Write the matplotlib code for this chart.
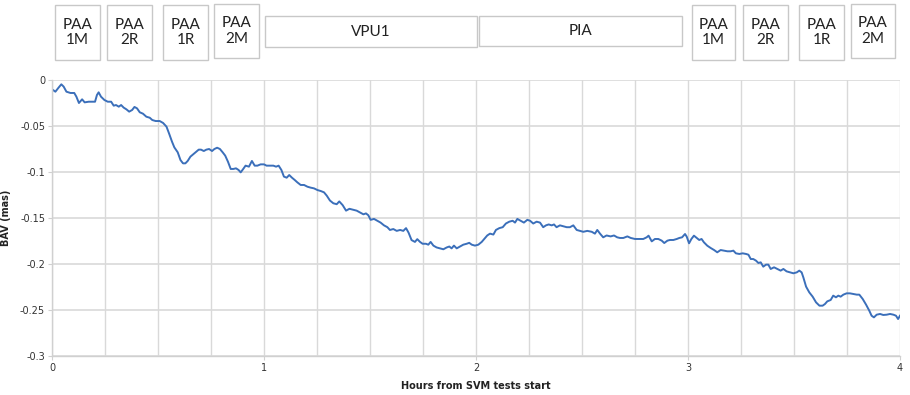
import numpy as np
import matplotlib
matplotlib.use("Agg")
import matplotlib.pyplot as plt
from matplotlib.patches import Rectangle

# BAV trace
hours = [0.000, 0.016, 0.031, 0.044, 0.055, 0.068, 0.087, 0.105, 0.115, 0.127,
         0.142, 0.154, 0.173, 0.194, 0.203, 0.212, 0.220, 0.231, 0.247, 0.263,
         0.279, 0.291, 0.302, 0.315, 0.326, 0.338, 0.351, 0.364, 0.378, 0.389,
         0.401, 0.414, 0.429, 0.445, 0.461, 0.473, 0.489, 0.508, 0.524, 0.540,
         0.552, 0.566, 0.577, 0.593, 0.606, 0.618, 0.629, 0.640, 0.653, 0.666,
         0.678, 0.692, 0.703, 0.716, 0.728, 0.741, 0.755, 0.766, 0.779, 0.792,
         0.805, 0.817, 0.830, 0.843, 0.855, 0.868, 0.880, 0.890, 0.902, 0.913,
         0.929, 0.943, 0.956, 0.969, 0.984, 1.000, 1.012, 1.028, 1.044, 1.057,
         1.069, 1.082, 1.094, 1.107, 1.119, 1.132, 1.145, 1.157, 1.173, 1.189,
         1.205, 1.220, 1.236, 1.252, 1.268, 1.283, 1.296,
         1.311, 1.327, 1.343, 1.355, 1.371, 1.387, 1.403, 1.421, 1.437, 1.453,
         1.469, 1.481, 1.492, 1.503, 1.519, 1.535, 1.550, 1.566, 1.582, 1.594,
         1.610, 1.626, 1.642, 1.657, 1.670, 1.682, 1.696, 1.712, 1.723, 1.736,
         1.748, 1.764, 1.775, 1.786, 1.799, 1.814, 1.830, 1.846, 1.862, 1.874,
         1.885, 1.896, 1.909, 1.925, 1.940, 1.956, 1.968, 1.980, 1.995, 2.011,
         2.027, 2.042, 2.053, 2.066, 2.082, 2.094, 2.110, 2.126, 2.141, 2.157,
         2.173, 2.184, 2.195, 2.211, 2.226, 2.242, 2.255, 2.270, 2.286, 2.302,
         2.317, 2.330, 2.343, 2.357, 2.368, 2.380, 2.396, 2.412, 2.428, 2.443,
         2.459, 2.475, 2.490, 2.506, 2.525, 2.546, 2.561, 2.572, 2.585, 2.600,
         2.616, 2.635, 2.651, 2.666,
         2.679, 2.695, 2.714, 2.730, 2.750, 2.770, 2.789, 2.805, 2.814, 2.829,
         2.844, 2.860, 2.876, 2.888, 2.903, 2.915, 2.931, 2.947, 2.959, 2.972,
         2.986, 2.994, 3.005, 3.016, 3.028, 3.041, 3.053, 3.064, 3.075, 3.091,
         3.107, 3.123, 3.138, 3.154, 3.170, 3.186, 3.201, 3.214, 3.226, 3.242,
         3.258, 3.274, 3.285, 3.296, 3.308, 3.321, 3.332, 3.343, 3.355, 3.368,
         3.379, 3.390, 3.406, 3.421, 3.437, 3.450, 3.465, 3.481, 3.497, 3.513,
         3.525, 3.536, 3.544, 3.557, 3.572, 3.588, 3.604, 3.620, 3.635, 3.646,
         3.657, 3.673, 3.685, 3.698, 3.709, 3.720, 3.733, 3.748, 3.764, 3.780,
         3.796, 3.808, 3.824, 3.840, 3.855, 3.866, 3.877, 3.890, 3.906, 3.921,
         3.937, 3.953, 3.969, 3.981, 3.991, 4.000]

bav = [-0.0101, -0.0127, -0.0083, -0.0047, -0.0072, -0.0127, -0.0141, -0.0141, -0.0181, -0.0250,
       -0.0210, -0.0243, -0.0236, -0.0236, -0.0236, -0.0163, -0.0134, -0.0181, -0.0217, -0.0236,
       -0.0236, -0.0279, -0.0272, -0.0290, -0.0272, -0.0300, -0.0319, -0.0344, -0.0326, -0.0293,
       -0.0308, -0.0351, -0.0366, -0.0399, -0.0410, -0.0435, -0.0446, -0.0446, -0.0467, -0.0507,
       -0.0580, -0.0670, -0.0732, -0.0786, -0.0870, -0.0906, -0.0906, -0.0880, -0.0833, -0.0808,
       -0.0786, -0.0757, -0.0757, -0.0772, -0.0757, -0.0750, -0.0772, -0.0750, -0.0736, -0.0750,
       -0.0786, -0.0822, -0.0888, -0.0967, -0.0967, -0.0960, -0.0978, -0.1004, -0.0967, -0.0931,
       -0.0942, -0.0880, -0.0931, -0.0931, -0.0917, -0.0917, -0.0931, -0.0931, -0.0931, -0.0942,
       -0.0931, -0.0978, -0.1050, -0.1062, -0.1033, -0.1062, -0.1087, -0.1112, -0.1141, -0.1141,
       -0.1160, -0.1170, -0.1178, -0.1196, -0.1207, -0.1221, -0.1257,
       -0.1310, -0.1340, -0.1350, -0.1320, -0.1360, -0.1420, -0.1400, -0.1410, -0.1420, -0.1440,
       -0.1460, -0.1450, -0.1470, -0.1520, -0.1510, -0.1530, -0.1550, -0.1580, -0.1600, -0.1630,
       -0.1620, -0.1640, -0.1630, -0.1640, -0.1610, -0.1660, -0.1740, -0.1760, -0.1730, -0.1760,
       -0.1780, -0.1780, -0.1790, -0.1760, -0.1800, -0.1820, -0.1830, -0.1840, -0.1820, -0.1810,
       -0.1830, -0.1800, -0.1830, -0.1810, -0.1790, -0.1780, -0.1770, -0.1790, -0.1800, -0.1790,
       -0.1760, -0.1720, -0.1690, -0.1670, -0.1680, -0.1630, -0.1610, -0.1600, -0.1560, -0.1540,
       -0.1530, -0.1550, -0.1510, -0.1530, -0.1550, -0.1520, -0.1530, -0.1560, -0.1540, -0.1550,
       -0.1600, -0.1580, -0.1570, -0.1580, -0.1570, -0.1600, -0.1580, -0.1590, -0.1600, -0.1600,
       -0.1580, -0.1630, -0.1640, -0.1650, -0.1640, -0.1650, -0.1670, -0.1630, -0.1670, -0.1710,
       -0.1690, -0.1700, -0.1690, -0.1710,
       -0.1717, -0.1717, -0.1700, -0.1717, -0.1728, -0.1728, -0.1728, -0.1710, -0.1692, -0.1754,
       -0.1728, -0.1728, -0.1746, -0.1772, -0.1746, -0.1739, -0.1739, -0.1728, -0.1717, -0.1710,
       -0.1674, -0.1703, -0.1775, -0.1728, -0.1692, -0.1717, -0.1739, -0.1728, -0.1764, -0.1801,
       -0.1826, -0.1848, -0.1873, -0.1848, -0.1855, -0.1862, -0.1862, -0.1855, -0.1884, -0.1891,
       -0.1884, -0.1891, -0.1899, -0.1946, -0.1946, -0.1964, -0.1989, -0.1982, -0.2029, -0.2007,
       -0.2007, -0.2054, -0.2036, -0.2054, -0.2072, -0.2054, -0.2080, -0.2091, -0.2101, -0.2091,
       -0.2072, -0.2091, -0.2145, -0.2246, -0.2308, -0.2355, -0.2417, -0.2453, -0.2453, -0.2435,
       -0.2406, -0.2391, -0.2344, -0.2362, -0.2344, -0.2355, -0.2333, -0.2319, -0.2319, -0.2326,
       -0.2333, -0.2333, -0.2380, -0.2442, -0.2507, -0.2562, -0.2580, -0.2551, -0.2543, -0.2554,
       -0.2551, -0.2543, -0.2551, -0.2562, -0.2598, -0.2562]

box_labels = ["PAA\n1M", "PAA\n2R", "PAA\n1R", "PAA\n2M", "VPU1", "PIA",
              "PAA\n1M", "PAA\n2R", "PAA\n1R", "PAA\n2M"]

# box extents in figure pixels: (left, right, top, bottom)
box_px = [(55, 100, 5, 60), (107, 152, 5, 60), (163, 208, 5, 60), (214, 259, 4, 58),
          (265, 477, 16, 47), (479, 682, 16, 46),
          (692, 735, 5, 60), (743, 788, 5, 60), (799, 844, 5, 60), (851, 895, 4, 58)]

W, H = 910, 395
fig = plt.figure(figsize=(W / 100, H / 100), dpi=100)
ax = fig.add_axes([52 / W, 1 - 356 / H, (900 - 52) / W, (356 - 80) / H])

ax.plot(hours, bav, color='#3b6fba', lw=1.4, solid_joinstyle='round')

ax.set_xlim(0, 4)
ax.set_ylim(-0.3, 0)
ax.set_xticks([0, 1, 2, 3, 4])
ax.set_xticklabels(['0', '1', '2', '3', '4'])
ax.set_xticks(np.arange(0, 4.01, 0.25), minor=True)
ax.set_yticks([0, -0.05, -0.1, -0.15, -0.2, -0.25, -0.3])
ax.set_yticklabels(['0', '-0.05', '-0.1', '-0.15', '-0.2', '-0.25', '-0.3'])

ax.grid(True, which='both', axis='x', color='#d9d9d9', lw=1.0)
ax.grid(True, which='major', axis='y', color='#d9d9d9', lw=1.2)
ax.set_axisbelow(True)
for s in ['top', 'right']:
    ax.spines[s].set_visible(False)
for s in ['left', 'bottom']:
    ax.spines[s].set_color('#d0d0d0')
    ax.spines[s].set_linewidth(1.0)
ax.tick_params(axis='both', which='major', length=3, color='#d0d0d0',
               labelsize=7, labelcolor='#333333', pad=2)
ax.tick_params(axis='x', which='minor', length=0)

ax.set_xlabel('Hours from SVM tests start', fontsize=7, fontweight='bold',
              color='#222222', labelpad=6)
ax.set_ylabel('BAV (mas)', fontsize=7, fontweight='bold', color='#222222')
ax.yaxis.set_label_coords(-0.048, 0.5)

for lab, (l, r, t, b) in zip(box_labels, box_px):
    fig.patches.append(Rectangle((l / W, 1 - b / H), (r - l) / W, (b - t) / H,
                                 transform=fig.transFigure, fill=False,
                                 edgecolor='#c8c8c8', lw=1.0))
    fig.text((l + r) / 2 / W, 1 - (t + b) / 2 / H, lab, ha='center', va='center',
             fontsize=11, family=['Lato', 'DejaVu Sans'], color='#222222',
             linespacing=1.1)

fig.savefig('out.png', dpi=100)
